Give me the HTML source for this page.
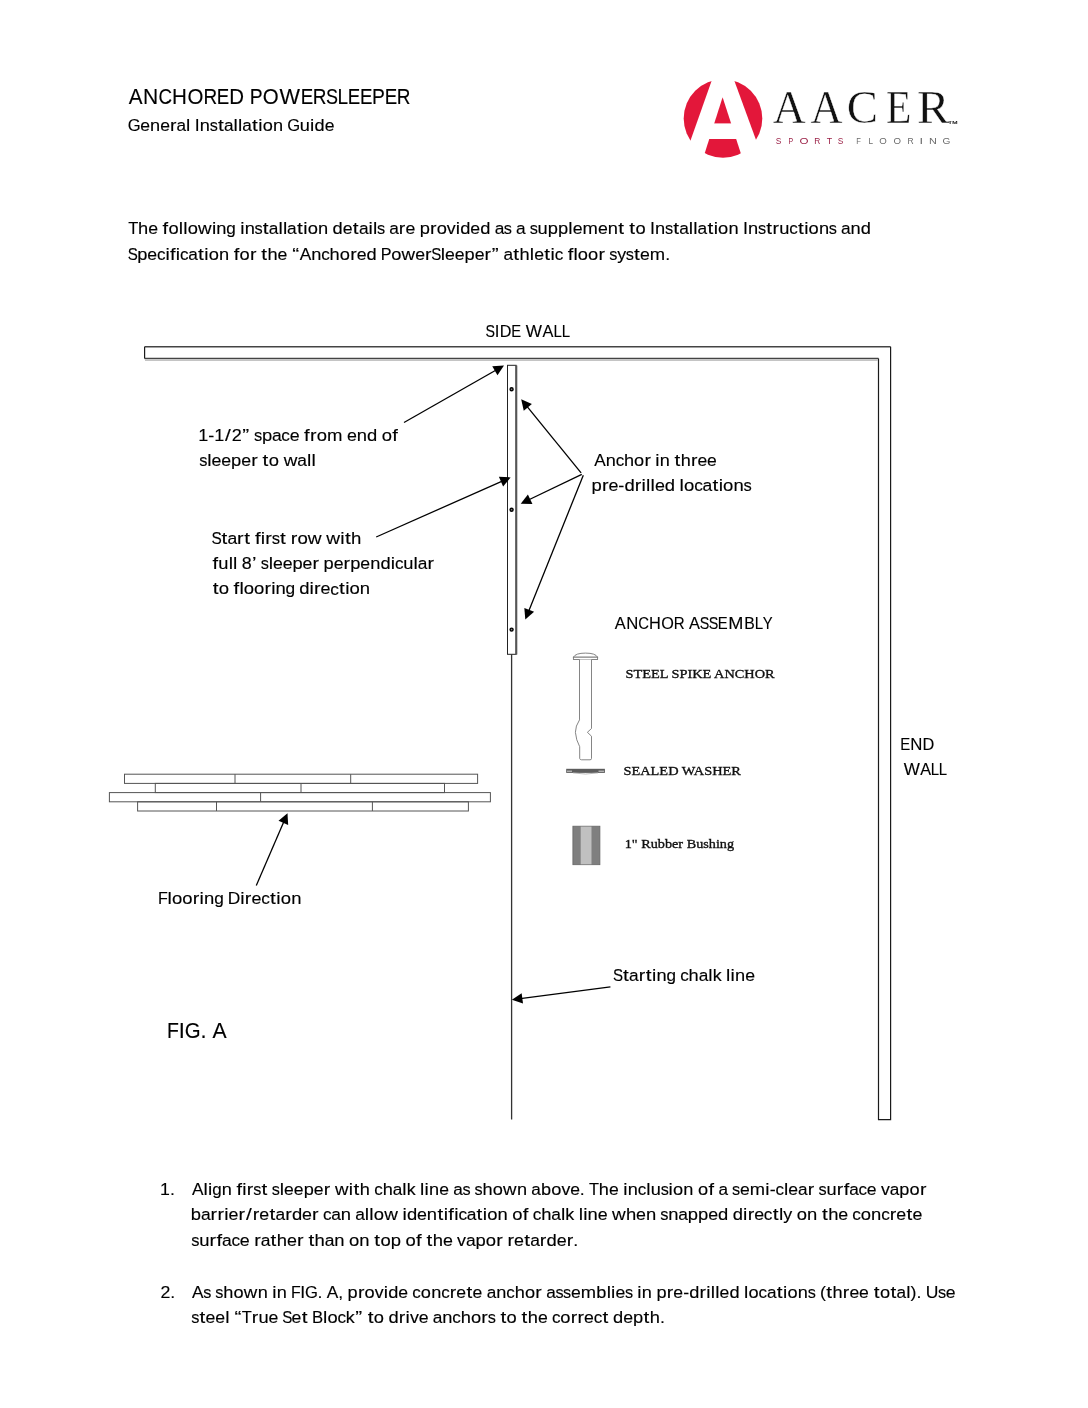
<!DOCTYPE html>
<html><head><meta charset="utf-8"><title>Anchored PowerSleeper</title>
<style>
html,body{margin:0;padding:0;background:#fff;}
body{width:1088px;height:1408px;overflow:hidden;}
svg{display:block;will-change:transform;}
.sans{font-family:"Liberation Sans", sans-serif;}
.b{stroke:#000;stroke-width:0.14px;}
.serif{font-family:"Liberation Serif", serif;}
</style></head><body>
<svg width="1088" height="1408" viewBox="0 0 1088 1408">
<g font-size="22.8" class="sans b" fill="#000"><text transform="scale(0.9065,1)" x="141.92" y="103.90">A</text><text transform="scale(0.9230,1)" x="155.00" y="103.90">N</text><text transform="scale(0.8230,1)" x="192.52" y="103.90">C</text><text transform="scale(0.9036,1)" x="190.41" y="103.90">H</text><text transform="scale(0.8963,1)" x="209.09" y="103.90">O</text><text transform="scale(0.8320,1)" x="244.46" y="103.90">R</text><text transform="scale(0.8188,1)" x="264.71" y="103.90">E</text><text transform="scale(0.8968,1)" x="255.60" y="103.90">D</text><text transform="scale(0.8469,1)" x="294.83" y="103.90">P</text><text transform="scale(0.8963,1)" x="293.15" y="103.90">O</text><text transform="scale(0.9528,1)" x="293.44" y="103.90">W</text><text transform="scale(0.8188,1)" x="367.19" y="103.90">E</text><text transform="scale(0.8320,1)" x="375.91" y="103.90">R</text><text transform="scale(0.7894,1)" x="412.92" y="103.90">S</text><text transform="scale(0.8347,1)" x="404.40" y="103.90">L</text><text transform="scale(0.8188,1)" x="424.82" y="103.90">E</text><text transform="scale(0.8188,1)" x="439.55" y="103.90">E</text><text transform="scale(0.8469,1)" x="439.32" y="103.90">P</text><text transform="scale(0.8188,1)" x="469.85" y="103.90">E</text><text transform="scale(0.8320,1)" x="476.95" y="103.90">R</text></g>
<g font-size="17.3" class="sans b" fill="#000"><text transform="scale(0.9580,1)" x="133.36" y="130.70">G</text><text transform="scale(1.0161,1)" x="138.07" y="130.70">e</text><text transform="scale(1.0498,1)" x="142.95" y="130.70">n</text><text transform="scale(1.0161,1)" x="157.65" y="130.70">e</text><text transform="scale(1.1166,1)" x="152.33" y="130.70">r</text><text transform="scale(0.9932,1)" x="177.79" y="130.70">a</text><text transform="scale(1.1076,1)" x="168.03" y="130.70">l</text><text transform="scale(1.0244,1)" x="190.23" y="130.70">I</text><text transform="scale(1.0498,1)" x="190.35" y="130.70">n</text><text transform="scale(0.9375,1)" x="223.75" y="130.70">s</text><text transform="scale(1.2000,1)" x="181.65" y="130.70">t</text><text transform="scale(0.9932,1)" x="225.54" y="130.70">a</text><text transform="scale(1.1076,1)" x="210.85" y="130.70">l</text><text transform="scale(1.1076,1)" x="214.88" y="130.70">l</text><text transform="scale(0.9932,1)" x="243.91" y="130.70">a</text><text transform="scale(1.2000,1)" x="210.05" y="130.70">t</text><text transform="scale(1.1076,1)" x="233.21" y="130.70">i</text><text transform="scale(1.0522,1)" x="249.71" y="130.70">o</text><text transform="scale(1.0498,1)" x="260.03" y="130.70">n</text><text transform="scale(0.9580,1)" x="299.82" y="130.70">G</text><text transform="scale(1.0498,1)" x="285.64" y="130.70">u</text><text transform="scale(1.1076,1)" x="280.00" y="130.70">i</text><text transform="scale(1.0498,1)" x="299.63" y="130.70">d</text><text transform="scale(1.0161,1)" x="319.53" y="130.70">e</text></g>
<defs><clipPath id="cc"><circle cx="723" cy="118.5" r="39.3"/></clipPath></defs>
<circle cx="723" cy="118.5" r="39.3" fill="#e3173a"/>
<polygon points="722.8,49.3 681.85,165 765.16,165" fill="#fff"/>
<polygon points="722.6,97.3 689.74,200 755.98,200" fill="#e3173a" clip-path="url(#cc)"/>
<rect x="700" y="123.4" width="46" height="15.6" fill="#fff"/>

<g font-size="17.3" class="sans b" fill="#000"><text transform="scale(0.9552,1)" x="134.29" y="233.90">T</text><text transform="scale(1.0572,1)" x="130.64" y="233.90">h</text><text transform="scale(1.0232,1)" x="144.88" y="233.90">e</text><text transform="scale(1.1572,1)" x="140.52" y="233.90">f</text><text transform="scale(1.0595,1)" x="158.96" y="233.90">o</text><text transform="scale(1.1154,1)" x="160.26" y="233.90">l</text><text transform="scale(1.1154,1)" x="164.27" y="233.90">l</text><text transform="scale(1.0595,1)" x="177.11" y="233.90">o</text><text transform="scale(1.0872,1)" x="182.18" y="233.90">w</text><text transform="scale(1.1154,1)" x="190.00" y="233.90">i</text><text transform="scale(1.0572,1)" x="204.64" y="233.90">n</text><text transform="scale(0.9897,1)" x="228.73" y="233.90">g</text><text transform="scale(1.1154,1)" x="215.37" y="233.90">i</text><text transform="scale(1.0572,1)" x="231.41" y="233.90">n</text><text transform="scale(0.9440,1)" x="269.68" y="233.90">s</text><text transform="scale(1.2000,1)" x="219.04" y="233.90">t</text><text transform="scale(1.0001,1)" x="268.82" y="233.90">a</text><text transform="scale(1.1154,1)" x="249.63" y="233.90">l</text><text transform="scale(1.1154,1)" x="253.64" y="233.90">l</text><text transform="scale(1.0001,1)" x="287.11" y="233.90">a</text><text transform="scale(1.2000,1)" x="247.50" y="233.90">t</text><text transform="scale(1.1154,1)" x="271.88" y="233.90">i</text><text transform="scale(1.0595,1)" x="290.39" y="233.90">o</text><text transform="scale(1.0572,1)" x="300.75" y="233.90">n</text><text transform="scale(1.0572,1)" x="314.61" y="233.90">d</text><text transform="scale(1.0232,1)" x="334.96" y="233.90">e</text><text transform="scale(1.2000,1)" x="294.07" y="233.90">t</text><text transform="scale(1.0001,1)" x="358.85" y="233.90">a</text><text transform="scale(1.1154,1)" x="330.35" y="233.90">i</text><text transform="scale(1.1154,1)" x="334.37" y="233.90">l</text><text transform="scale(0.9440,1)" x="399.42" y="233.90">s</text><text transform="scale(1.0001,1)" x="389.16" y="233.90">a</text><text transform="scale(1.1244,1)" x="354.73" y="233.90">r</text><text transform="scale(1.0232,1)" x="396.23" y="233.90">e</text><text transform="scale(1.0572,1)" x="396.95" y="233.90">p</text><text transform="scale(1.1244,1)" x="382.43" y="233.90">r</text><text transform="scale(1.0595,1)" x="412.15" y="233.90">o</text><text transform="scale(1.0291,1)" x="434.22" y="233.90">v</text><text transform="scale(1.1154,1)" x="408.67" y="233.90">i</text><text transform="scale(1.0572,1)" x="435.35" y="233.90">d</text><text transform="scale(1.0232,1)" x="459.71" y="233.90">e</text><text transform="scale(1.0572,1)" x="454.22" y="233.90">d</text><text transform="scale(1.0001,1)" x="494.59" y="233.90">a</text><text transform="scale(0.9440,1)" x="533.76" y="233.90">s</text><text transform="scale(1.0001,1)" x="515.96" y="233.90">a</text><text transform="scale(0.9440,1)" x="561.07" y="233.90">s</text><text transform="scale(1.0572,1)" x="508.51" y="233.90">u</text><text transform="scale(1.0572,1)" x="518.20" y="233.90">p</text><text transform="scale(1.0572,1)" x="527.89" y="233.90">p</text><text transform="scale(1.1154,1)" x="509.57" y="233.90">l</text><text transform="scale(1.0232,1)" x="559.69" y="233.90">e</text><text transform="scale(1.0667,1)" x="546.11" y="233.90">m</text><text transform="scale(1.0232,1)" x="584.39" y="233.90">e</text><text transform="scale(1.0572,1)" x="574.89" y="233.90">n</text><text transform="scale(1.2000,1)" x="515.28" y="233.90">t</text><text transform="scale(1.2000,1)" x="524.40" y="233.90">t</text><text transform="scale(1.0595,1)" x="599.78" y="233.90">o</text><text transform="scale(1.0315,1)" x="630.21" y="233.90">I</text><text transform="scale(1.0572,1)" x="619.65" y="233.90">n</text><text transform="scale(0.9440,1)" x="704.46" y="233.90">s</text><text transform="scale(1.2000,1)" x="561.06" y="233.90">t</text><text transform="scale(1.0001,1)" x="679.20" y="233.90">a</text><text transform="scale(1.1154,1)" x="617.61" y="233.90">l</text><text transform="scale(1.1154,1)" x="621.62" y="233.90">l</text><text transform="scale(1.0001,1)" x="697.49" y="233.90">a</text><text transform="scale(1.2000,1)" x="589.53" y="233.90">t</text><text transform="scale(1.1154,1)" x="639.86" y="233.90">i</text><text transform="scale(1.0595,1)" x="677.77" y="233.90">o</text><text transform="scale(1.0572,1)" x="689.00" y="233.90">n</text><text transform="scale(1.0315,1)" x="720.25" y="233.90">I</text><text transform="scale(1.0572,1)" x="707.50" y="233.90">n</text><text transform="scale(0.9440,1)" x="802.85" y="233.90">s</text><text transform="scale(1.2000,1)" x="638.46" y="233.90">t</text><text transform="scale(1.1244,1)" x="687.01" y="233.90">r</text><text transform="scale(1.0572,1)" x="737.01" y="233.90">u</text><text transform="scale(0.9892,1)" x="797.78" y="233.90">c</text><text transform="scale(1.2000,1)" x="664.97" y="233.90">t</text><text transform="scale(1.1154,1)" x="721.03" y="233.90">i</text><text transform="scale(1.0595,1)" x="763.21" y="233.90">o</text><text transform="scale(1.0572,1)" x="774.63" y="233.90">n</text><text transform="scale(0.9440,1)" x="878.03" y="233.90">s</text><text transform="scale(1.0001,1)" x="840.90" y="233.90">a</text><text transform="scale(1.0572,1)" x="804.54" y="233.90">n</text><text transform="scale(1.0572,1)" x="814.23" y="233.90">d</text></g>
<g font-size="17.3" class="sans b" fill="#000"><text transform="scale(0.8731,1)" x="146.26" y="259.60">S</text><text transform="scale(1.0553,1)" x="130.05" y="259.60">p</text><text transform="scale(1.0214,1)" x="144.27" y="259.60">e</text><text transform="scale(0.9875,1)" x="158.93" y="259.60">c</text><text transform="scale(1.1134,1)" x="148.57" y="259.60">i</text><text transform="scale(1.1552,1)" x="147.14" y="259.60">f</text><text transform="scale(1.1134,1)" x="157.91" y="259.60">i</text><text transform="scale(0.9875,1)" x="182.31" y="259.60">c</text><text transform="scale(0.9984,1)" x="188.57" y="259.60">a</text><text transform="scale(1.2000,1)" x="165.08" y="259.60">t</text><text transform="scale(1.1134,1)" x="183.51" y="259.60">i</text><text transform="scale(1.0576,1)" x="197.36" y="259.60">o</text><text transform="scale(1.0553,1)" x="207.51" y="259.60">n</text><text transform="scale(1.1552,1)" x="202.35" y="259.60">f</text><text transform="scale(1.0576,1)" x="226.48" y="259.60">o</text><text transform="scale(1.1224,1)" x="222.65" y="259.60">r</text><text transform="scale(1.2000,1)" x="217.75" y="259.60">t</text><text transform="scale(1.0553,1)" x="253.46" y="259.60">h</text><text transform="scale(1.0214,1)" x="271.77" y="259.60">e</text><text transform="scale(1.2000,1)" x="243.62" y="259.60">“</text><text transform="scale(1.0027,1)" x="298.90" y="259.60">A</text><text transform="scale(1.0553,1)" x="294.84" y="259.60">n</text><text transform="scale(0.9875,1)" x="325.24" y="259.60">c</text><text transform="scale(1.0553,1)" x="312.31" y="259.60">h</text><text transform="scale(1.0576,1)" x="321.29" y="259.60">o</text><text transform="scale(1.1224,1)" x="311.99" y="259.60">r</text><text transform="scale(1.0214,1)" x="349.26" y="259.60">e</text><text transform="scale(1.0553,1)" x="347.30" y="259.60">d</text><text transform="scale(0.9367,1)" x="406.42" y="259.60">P</text><text transform="scale(1.0576,1)" x="369.85" y="259.60">o</text><text transform="scale(1.0853,1)" x="370.00" y="259.60">w</text><text transform="scale(1.0214,1)" x="406.52" y="259.60">e</text><text transform="scale(1.1224,1)" x="378.76" y="259.60">r</text><text transform="scale(0.8731,1)" x="493.82" y="259.60">S</text><text transform="scale(1.1134,1)" x="395.88" y="259.60">l</text><text transform="scale(1.0214,1)" x="435.74" y="259.60">e</text><text transform="scale(1.0214,1)" x="445.22" y="259.60">e</text><text transform="scale(1.0553,1)" x="440.18" y="259.60">p</text><text transform="scale(1.0214,1)" x="464.69" y="259.60">e</text><text transform="scale(1.1224,1)" x="431.70" y="259.60">r</text><text transform="scale(1.2000,1)" x="409.81" y="259.60">”</text><text transform="scale(0.9984,1)" x="504.37" y="259.60">a</text><text transform="scale(1.2000,1)" x="427.82" y="259.60">t</text><text transform="scale(1.0553,1)" x="492.33" y="259.60">h</text><text transform="scale(1.1134,1)" x="475.86" y="259.60">l</text><text transform="scale(1.0214,1)" x="522.94" y="259.60">e</text><text transform="scale(1.2000,1)" x="453.54" y="259.60">t</text><text transform="scale(1.1134,1)" x="494.41" y="259.60">i</text><text transform="scale(0.9875,1)" x="561.72" y="259.60">c</text><text transform="scale(1.1552,1)" x="491.39" y="259.60">f</text><text transform="scale(1.1134,1)" x="515.08" y="259.60">l</text><text transform="scale(1.0576,1)" x="546.40" y="259.60">o</text><text transform="scale(1.0576,1)" x="556.10" y="259.60">o</text><text transform="scale(1.1224,1)" x="533.26" y="259.60">r</text><text transform="scale(0.9423,1)" x="646.57" y="259.60">s</text><text transform="scale(1.0287,1)" x="599.92" y="259.60">y</text><text transform="scale(0.9423,1)" x="663.98" y="259.60">s</text><text transform="scale(1.2000,1)" x="528.28" y="259.60">t</text><text transform="scale(1.0214,1)" x="626.59" y="259.60">e</text><text transform="scale(1.0648,1)" x="610.27" y="259.60">m</text><text transform="scale(1.0309,1)" x="645.30" y="259.60">.</text></g>
<g font-size="17.3" class="sans b" fill="#000"><text transform="scale(0.8229,1)" x="590.04" y="336.90">S</text><text transform="scale(0.9705,1)" x="509.89" y="336.90">I</text><text transform="scale(0.9348,1)" x="534.57" y="336.90">D</text><text transform="scale(0.8535,1)" x="599.05" y="336.90">E</text><text transform="scale(0.9933,1)" x="529.35" y="336.90">W</text><text transform="scale(0.9450,1)" x="574.20" y="336.90">A</text><text transform="scale(0.8701,1)" x="636.19" y="336.90">L</text><text transform="scale(0.8701,1)" x="645.52" y="336.90">L</text></g>
<g font-size="17.3" class="sans b" fill="#000"><text transform="scale(1.0414,1)" x="190.47" y="441.30">1</text><text transform="scale(1.0469,1)" x="198.97" y="441.30">-</text><text transform="scale(1.0414,1)" x="205.73" y="441.30">1</text><text transform="scale(1.2000,1)" x="187.58" y="441.30">/</text><text transform="scale(1.0414,1)" x="222.50" y="441.30">2</text><text transform="scale(1.2000,1)" x="201.92" y="441.30">”</text><text transform="scale(0.9502,1)" x="267.30" y="441.30">s</text><text transform="scale(1.0641,1)" x="246.15" y="441.30">p</text><text transform="scale(1.0067,1)" x="270.21" y="441.30">a</text><text transform="scale(0.9957,1)" x="282.58" y="441.30">c</text><text transform="scale(1.0299,1)" x="281.31" y="441.30">e</text><text transform="scale(1.1648,1)" x="261.10" y="441.30">f</text><text transform="scale(1.1318,1)" x="273.97" y="441.30">r</text><text transform="scale(1.0665,1)" x="297.02" y="441.30">o</text><text transform="scale(1.0737,1)" x="304.66" y="441.30">m</text><text transform="scale(1.0299,1)" x="336.91" y="441.30">e</text><text transform="scale(1.0641,1)" x="335.33" y="441.30">n</text><text transform="scale(1.0641,1)" x="344.98" y="441.30">d</text><text transform="scale(1.0665,1)" x="357.99" y="441.30">o</text><text transform="scale(1.1648,1)" x="336.74" y="441.30">f</text></g>
<g font-size="17.3" class="sans b" fill="#000"><text transform="scale(0.9476,1)" x="210.17" y="465.90">s</text><text transform="scale(1.1196,1)" x="185.03" y="465.90">l</text><text transform="scale(1.0271,1)" x="205.90" y="465.90">e</text><text transform="scale(1.0271,1)" x="215.37" y="465.90">e</text><text transform="scale(1.0612,1)" x="217.71" y="465.90">p</text><text transform="scale(1.0271,1)" x="234.83" y="465.90">e</text><text transform="scale(1.1287,1)" x="222.52" y="465.90">r</text><text transform="scale(1.2000,1)" x="218.85" y="465.90">t</text><text transform="scale(1.0636,1)" x="252.74" y="465.90">o</text><text transform="scale(1.0914,1)" x="259.92" y="465.90">w</text><text transform="scale(1.0040,1)" x="296.15" y="465.90">a</text><text transform="scale(1.1196,1)" x="274.13" y="465.90">l</text><text transform="scale(1.1196,1)" x="278.13" y="465.90">l</text></g>
<g font-size="17.3" class="sans b" fill="#000"><text transform="scale(0.9957,1)" x="596.93" y="466.20">A</text><text transform="scale(1.0479,1)" x="577.99" y="466.20">n</text><text transform="scale(0.9806,1)" x="627.81" y="466.20">c</text><text transform="scale(1.0479,1)" x="595.43" y="466.20">h</text><text transform="scale(1.0503,1)" x="603.75" y="466.20">o</text><text transform="scale(1.1146,1)" x="578.15" y="466.20">r</text><text transform="scale(1.1056,1)" x="592.78" y="466.20">i</text><text transform="scale(1.0479,1)" x="629.58" y="466.20">n</text><text transform="scale(1.2000,1)" x="562.14" y="466.20">t</text><text transform="scale(1.0479,1)" x="649.56" y="466.20">h</text><text transform="scale(1.1146,1)" x="619.92" y="466.20">r</text><text transform="scale(1.0143,1)" x="687.63" y="466.20">e</text><text transform="scale(1.0143,1)" x="697.08" y="466.20">e</text></g>
<g font-size="17.3" class="sans b" fill="#000"><text transform="scale(1.0681,1)" x="553.85" y="491.30">p</text><text transform="scale(1.1360,1)" x="529.91" y="491.30">r</text><text transform="scale(1.0338,1)" x="588.69" y="491.30">e</text><text transform="scale(1.0508,1)" x="588.49" y="491.30">-</text><text transform="scale(1.0681,1)" x="584.62" y="491.30">d</text><text transform="scale(1.1360,1)" x="558.85" y="491.30">r</text><text transform="scale(1.1269,1)" x="569.37" y="491.30">i</text><text transform="scale(1.1269,1)" x="573.37" y="491.30">l</text><text transform="scale(1.1269,1)" x="577.36" y="491.30">l</text><text transform="scale(1.0338,1)" x="633.54" y="491.30">e</text><text transform="scale(1.0681,1)" x="622.41" y="491.30">d</text><text transform="scale(1.1269,1)" x="603.06" y="491.30">l</text><text transform="scale(1.0705,1)" x="638.99" y="491.30">o</text><text transform="scale(0.9995,1)" x="694.53" y="491.30">c</text><text transform="scale(1.0105,1)" x="695.18" y="491.30">a</text><text transform="scale(1.2000,1)" x="593.67" y="491.30">t</text><text transform="scale(1.1269,1)" x="637.73" y="491.30">i</text><text transform="scale(1.0705,1)" x="675.48" y="491.30">o</text><text transform="scale(1.0681,1)" x="686.66" y="491.30">n</text><text transform="scale(0.9538,1)" x="779.45" y="491.30">s</text></g>
<g font-size="17.3" class="sans b" fill="#000"><text transform="scale(0.8893,1)" x="237.76" y="543.70">S</text><text transform="scale(1.2000,1)" x="184.54" y="543.70">t</text><text transform="scale(1.0168,1)" x="223.63" y="543.70">a</text><text transform="scale(1.1431,1)" x="207.39" y="543.70">r</text><text transform="scale(1.2000,1)" x="203.47" y="543.70">t</text><text transform="scale(1.1765,1)" x="216.65" y="543.70">f</text><text transform="scale(1.1340,1)" x="229.96" y="543.70">i</text><text transform="scale(1.1431,1)" x="232.09" y="543.70">r</text><text transform="scale(0.9597,1)" x="283.08" y="543.70">s</text><text transform="scale(1.2000,1)" x="233.36" y="543.70">t</text><text transform="scale(1.1431,1)" x="254.32" y="543.70">r</text><text transform="scale(1.0772,1)" x="276.09" y="543.70">o</text><text transform="scale(1.1053,1)" x="278.48" y="543.70">w</text><text transform="scale(1.1053,1)" x="295.12" y="543.70">w</text><text transform="scale(1.1340,1)" x="299.97" y="543.70">i</text><text transform="scale(1.2000,1)" x="287.47" y="543.70">t</text><text transform="scale(1.0748,1)" x="326.66" y="543.70">h</text></g>
<g font-size="17.3" class="sans b" fill="#000"><text transform="scale(1.1569,1)" x="183.74" y="568.90">f</text><text transform="scale(1.0568,1)" x="206.60" y="568.90">u</text><text transform="scale(1.1150,1)" x="205.05" y="568.90">l</text><text transform="scale(1.1150,1)" x="209.05" y="568.90">l</text><text transform="scale(1.0343,1)" x="233.82" y="568.90">8</text><text transform="scale(1.1724,1)" x="214.87" y="568.90">’</text><text transform="scale(0.9437,1)" x="276.28" y="568.90">s</text><text transform="scale(1.1150,1)" x="240.98" y="568.90">l</text><text transform="scale(1.0228,1)" x="266.89" y="568.90">e</text><text transform="scale(1.0228,1)" x="276.36" y="568.90">e</text><text transform="scale(1.0568,1)" x="276.74" y="568.90">p</text><text transform="scale(1.0228,1)" x="295.82" y="568.90">e</text><text transform="scale(1.1240,1)" x="278.02" y="568.90">r</text><text transform="scale(1.0568,1)" x="306.17" y="568.90">p</text><text transform="scale(1.0228,1)" x="326.22" y="568.90">e</text><text transform="scale(1.1240,1)" x="305.69" y="568.90">r</text><text transform="scale(1.0568,1)" x="331.43" y="568.90">p</text><text transform="scale(1.0228,1)" x="352.32" y="568.90">e</text><text transform="scale(1.0568,1)" x="350.27" y="568.90">n</text><text transform="scale(1.0568,1)" x="359.94" y="568.90">d</text><text transform="scale(1.1150,1)" x="350.38" y="568.90">i</text><text transform="scale(0.9889,1)" x="399.32" y="568.90">c</text><text transform="scale(1.0568,1)" x="381.63" y="568.90">u</text><text transform="scale(1.1150,1)" x="370.94" y="568.90">l</text><text transform="scale(0.9998,1)" x="417.91" y="568.90">a</text><text transform="scale(1.1240,1)" x="380.29" y="568.90">r</text></g>
<g font-size="17.3" class="sans b" fill="#000"><text transform="scale(1.2000,1)" x="177.21" y="594.50">t</text><text transform="scale(1.0710,1)" x="204.26" y="594.50">o</text><text transform="scale(1.1698,1)" x="199.68" y="594.50">f</text><text transform="scale(1.1275,1)" x="212.36" y="594.50">l</text><text transform="scale(1.0710,1)" x="227.63" y="594.50">o</text><text transform="scale(1.0710,1)" x="237.20" y="594.50">o</text><text transform="scale(1.1366,1)" x="232.66" y="594.50">r</text><text transform="scale(1.1275,1)" x="240.51" y="594.50">i</text><text transform="scale(1.0686,1)" x="257.83" y="594.50">n</text><text transform="scale(1.0004,1)" x="285.41" y="594.50">g</text><text transform="scale(1.0686,1)" x="280.06" y="594.50">d</text><text transform="scale(1.1275,1)" x="274.59" y="594.50">i</text><text transform="scale(1.1366,1)" x="276.36" y="594.50">r</text><text transform="scale(1.0343,1)" x="309.99" y="594.50">e</text><text transform="scale(1.0000,1)" x="330.23" y="594.50">c</text><text transform="scale(1.2000,1)" x="282.52" y="594.50">t</text><text transform="scale(1.1275,1)" x="306.20" y="594.50">i</text><text transform="scale(1.0710,1)" x="326.42" y="594.50">o</text><text transform="scale(1.0686,1)" x="336.73" y="594.50">n</text></g>
<g font-size="17.3" class="sans b" fill="#000"><text transform="scale(0.9493,1)" x="647.69" y="629.20">A</text><text transform="scale(0.9665,1)" x="647.91" y="629.20">N</text><text transform="scale(0.8618,1)" x="740.71" y="629.20">C</text><text transform="scale(0.9462,1)" x="685.97" y="629.20">H</text><text transform="scale(0.9386,1)" x="704.41" y="629.20">O</text><text transform="scale(0.8712,1)" x="773.33" y="629.20">R</text><text transform="scale(0.9493,1)" x="725.81" y="629.20">A</text><text transform="scale(0.8267,1)" x="846.56" y="629.20">S</text><text transform="scale(0.8267,1)" x="857.38" y="629.20">S</text><text transform="scale(0.8574,1)" x="837.20" y="629.20">E</text><text transform="scale(1.0501,1)" x="693.51" y="629.20">M</text><text transform="scale(0.9148,1)" x="813.49" y="629.20">B</text><text transform="scale(0.8741,1)" x="863.35" y="629.20">L</text><text transform="scale(0.8564,1)" x="890.63" y="629.20">Y</text></g>
<g font-size="17.3" class="sans b" fill="#000"><text transform="scale(0.8622,1)" x="1044.20" y="749.80">E</text><text transform="scale(0.9719,1)" x="936.49" y="749.80">N</text><text transform="scale(0.9443,1)" x="977.00" y="749.80">D</text></g>
<g font-size="17.3" class="sans b" fill="#000"><text transform="scale(0.9867,1)" x="915.83" y="775.10">W</text><text transform="scale(0.9388,1)" x="980.18" y="775.10">A</text><text transform="scale(0.8643,1)" x="1076.95" y="775.10">L</text><text transform="scale(0.8643,1)" x="1086.14" y="775.10">L</text></g>
<g font-size="17.3" class="sans b" fill="#000"><text transform="scale(0.9305,1)" x="169.77" y="903.90">F</text><text transform="scale(1.1256,1)" x="148.82" y="903.90">l</text><text transform="scale(1.0692,1)" x="160.84" y="903.90">o</text><text transform="scale(1.0692,1)" x="170.54" y="903.90">o</text><text transform="scale(1.1347,1)" x="169.95" y="903.90">r</text><text transform="scale(1.1256,1)" x="177.36" y="903.90">i</text><text transform="scale(1.0669,1)" x="191.30" y="903.90">n</text><text transform="scale(0.9988,1)" x="214.48" y="903.90">g</text><text transform="scale(1.0027,1)" x="227.27" y="903.90">D</text><text transform="scale(1.1256,1)" x="213.48" y="903.90">i</text><text transform="scale(1.1347,1)" x="215.81" y="903.90">r</text><text transform="scale(1.0326,1)" x="243.57" y="903.90">e</text><text transform="scale(0.9983,1)" x="261.65" y="903.90">c</text><text transform="scale(1.2000,1)" x="225.08" y="903.90">t</text><text transform="scale(1.1256,1)" x="245.53" y="903.90">i</text><text transform="scale(1.0692,1)" x="262.65" y="903.90">o</text><text transform="scale(1.0669,1)" x="272.95" y="903.90">n</text></g>
<g font-size="17.3" class="sans b" fill="#000"><text transform="scale(0.8731,1)" x="702.11" y="981.50">S</text><text transform="scale(1.2000,1)" x="519.13" y="981.50">t</text><text transform="scale(0.9983,1)" x="630.05" y="981.50">a</text><text transform="scale(1.1224,1)" x="569.03" y="981.50">r</text><text transform="scale(1.2000,1)" x="538.09" y="981.50">t</text><text transform="scale(1.1134,1)" x="585.58" y="981.50">i</text><text transform="scale(1.0553,1)" x="622.04" y="981.50">n</text><text transform="scale(0.9879,1)" x="674.64" y="981.50">g</text><text transform="scale(0.9875,1)" x="688.77" y="981.50">c</text><text transform="scale(1.0553,1)" x="652.54" y="981.50">h</text><text transform="scale(0.9983,1)" x="699.87" y="981.50">a</text><text transform="scale(1.1134,1)" x="636.17" y="981.50">l</text><text transform="scale(1.0313,1)" x="691.05" y="981.50">k</text><text transform="scale(1.1134,1)" x="652.17" y="981.50">l</text><text transform="scale(1.1134,1)" x="656.20" y="981.50">i</text><text transform="scale(1.0553,1)" x="696.55" y="981.50">n</text><text transform="scale(1.0214,1)" x="729.63" y="981.50">e</text></g>
<g font-size="22.8" class="sans b" fill="#000"><text transform="scale(0.8535,1)" x="195.55" y="1037.60">F</text><text transform="scale(0.9548,1)" x="187.12" y="1037.60">I</text><text transform="scale(0.8929,1)" x="206.90" y="1037.60">G</text><text transform="scale(0.9559,1)" x="209.87" y="1037.60">.</text><text transform="scale(0.9297,1)" x="228.59" y="1037.60">A</text></g>
<text x="625.45" y="677.80" font-size="13.4" textLength="149.17" lengthAdjust="spacingAndGlyphs" class="serif" fill="#111" stroke="#111" stroke-width="0.35">STEEL SPIKE ANCHOR</text>
<text x="623.45" y="775.00" font-size="13.4" textLength="117.47" lengthAdjust="spacingAndGlyphs" class="serif" fill="#111" stroke="#111" stroke-width="0.35">SEALED WASHER</text>
<text x="624.75" y="848.00" font-size="13.4" textLength="109.32" lengthAdjust="spacingAndGlyphs" class="serif" fill="#111" stroke="#111" stroke-width="0.35">1&quot; Rubber Bushing</text>
<g font-size="17.3" class="sans b" fill="#000"><text transform="scale(1.0268,1)" x="155.84" y="1194.90">1</text><text transform="scale(1.0250,1)" x="165.76" y="1194.90">.</text></g>
<g font-size="17.3" class="sans b" fill="#000"><text transform="scale(0.9980,1)" x="192.39" y="1194.90">A</text><text transform="scale(1.1082,1)" x="183.65" y="1194.90">l</text><text transform="scale(1.1082,1)" x="187.69" y="1194.90">i</text><text transform="scale(0.9834,1)" x="215.82" y="1194.90">g</text><text transform="scale(1.0504,1)" x="211.00" y="1194.90">n</text><text transform="scale(1.1499,1)" x="205.62" y="1194.90">f</text><text transform="scale(1.1082,1)" x="218.62" y="1194.90">i</text><text transform="scale(1.1172,1)" x="220.94" y="1194.90">r</text><text transform="scale(0.9380,1)" x="269.97" y="1194.90">s</text><text transform="scale(1.2000,1)" x="217.90" y="1194.90">t</text><text transform="scale(0.9380,1)" x="289.78" y="1194.90">s</text><text transform="scale(1.1082,1)" x="252.45" y="1194.90">l</text><text transform="scale(1.0166,1)" x="279.46" y="1194.90">e</text><text transform="scale(1.0166,1)" x="289.01" y="1194.90">e</text><text transform="scale(1.0504,1)" x="289.07" y="1194.90">p</text><text transform="scale(1.0166,1)" x="308.65" y="1194.90">e</text><text transform="scale(1.1172,1)" x="289.76" y="1194.90">r</text><text transform="scale(1.0803,1)" x="310.09" y="1194.90">w</text><text transform="scale(1.1082,1)" x="314.74" y="1194.90">i</text><text transform="scale(1.2000,1)" x="294.63" y="1194.90">t</text><text transform="scale(1.0504,1)" x="342.52" y="1194.90">h</text><text transform="scale(0.9829,1)" x="380.76" y="1194.90">c</text><text transform="scale(1.0504,1)" x="364.34" y="1194.90">h</text><text transform="scale(0.9937,1)" x="395.25" y="1194.90">a</text><text transform="scale(1.1082,1)" x="363.04" y="1194.90">l</text><text transform="scale(1.0265,1)" x="396.19" y="1194.90">k</text><text transform="scale(1.1082,1)" x="379.07" y="1194.90">l</text><text transform="scale(1.1082,1)" x="383.11" y="1194.90">i</text><text transform="scale(1.0504,1)" x="408.43" y="1194.90">n</text><text transform="scale(1.0166,1)" x="431.97" y="1194.90">e</text><text transform="scale(0.9937,1)" x="456.07" y="1194.90">a</text><text transform="scale(0.9380,1)" x="493.01" y="1194.90">s</text><text transform="scale(0.9380,1)" x="505.85" y="1194.90">s</text><text transform="scale(1.0504,1)" x="459.27" y="1194.90">h</text><text transform="scale(1.0527,1)" x="467.99" y="1194.90">o</text><text transform="scale(1.0803,1)" x="465.73" y="1194.90">w</text><text transform="scale(1.0504,1)" x="492.10" y="1194.90">n</text><text transform="scale(0.9937,1)" x="534.74" y="1194.90">a</text><text transform="scale(1.0504,1)" x="514.96" y="1194.90">b</text><text transform="scale(1.0527,1)" x="523.56" y="1194.90">o</text><text transform="scale(1.0226,1)" x="548.99" y="1194.90">v</text><text transform="scale(1.0166,1)" x="560.83" y="1194.90">e</text><text transform="scale(1.0261,1)" x="565.13" y="1194.90">.</text><text transform="scale(0.9491,1)" x="620.58" y="1194.90">T</text><text transform="scale(1.0504,1)" x="570.10" y="1194.90">h</text><text transform="scale(1.0166,1)" x="599.00" y="1194.90">e</text><text transform="scale(1.1082,1)" x="562.37" y="1194.90">i</text><text transform="scale(1.0504,1)" x="597.57" y="1194.90">n</text><text transform="scale(0.9829,1)" x="648.83" y="1194.90">c</text><text transform="scale(1.1082,1)" x="583.11" y="1194.90">l</text><text transform="scale(1.0504,1)" x="619.45" y="1194.90">u</text><text transform="scale(0.9380,1)" x="704.30" y="1194.90">s</text><text transform="scale(1.1082,1)" x="603.29" y="1194.90">i</text><text transform="scale(1.0527,1)" x="639.32" y="1194.90">o</text><text transform="scale(1.0504,1)" x="650.53" y="1194.90">n</text><text transform="scale(1.0527,1)" x="663.02" y="1194.90">o</text><text transform="scale(1.1499,1)" x="616.09" y="1194.90">f</text><text transform="scale(0.9937,1)" x="722.99" y="1194.90">a</text><text transform="scale(0.9380,1)" x="780.51" y="1194.90">s</text><text transform="scale(1.0166,1)" x="727.80" y="1194.90">e</text><text transform="scale(1.0599,1)" x="707.45" y="1194.90">m</text><text transform="scale(1.1082,1)" x="690.61" y="1194.90">i</text><text transform="scale(1.0334,1)" x="744.86" y="1194.90">-</text><text transform="scale(0.9829,1)" x="789.07" y="1194.90">c</text><text transform="scale(1.1082,1)" x="707.49" y="1194.90">l</text><text transform="scale(1.0166,1)" x="775.49" y="1194.90">e</text><text transform="scale(0.9937,1)" x="803.08" y="1194.90">a</text><text transform="scale(1.1172,1)" x="722.95" y="1194.90">r</text><text transform="scale(0.9380,1)" x="872.61" y="1194.90">s</text><text transform="scale(1.0504,1)" x="786.76" y="1194.90">u</text><text transform="scale(1.1172,1)" x="749.00" y="1194.90">r</text><text transform="scale(1.1499,1)" x="733.67" y="1194.90">f</text><text transform="scale(0.9937,1)" x="854.61" y="1194.90">a</text><text transform="scale(0.9829,1)" x="873.51" y="1194.90">c</text><text transform="scale(1.0166,1)" x="852.72" y="1194.90">e</text><text transform="scale(1.0226,1)" x="861.62" y="1194.90">v</text><text transform="scale(0.9937,1)" x="895.39" y="1194.90">a</text><text transform="scale(1.0504,1)" x="856.16" y="1194.90">p</text><text transform="scale(1.0527,1)" x="864.00" y="1194.90">o</text><text transform="scale(1.1172,1)" x="823.46" y="1194.90">r</text></g>
<g font-size="17.3" class="sans b" fill="#000"><text transform="scale(1.0639,1)" x="179.38" y="1220.30">b</text><text transform="scale(1.0065,1)" x="199.63" y="1220.30">a</text><text transform="scale(1.1316,1)" x="186.11" y="1220.30">r</text><text transform="scale(1.1316,1)" x="192.13" y="1220.30">r</text><text transform="scale(1.1225,1)" x="199.70" y="1220.30">i</text><text transform="scale(1.0297,1)" x="221.87" y="1220.30">e</text><text transform="scale(1.1316,1)" x="210.70" y="1220.30">r</text><text transform="scale(1.2000,1)" x="204.98" y="1220.30">/</text><text transform="scale(1.1316,1)" x="223.39" y="1220.30">r</text><text transform="scale(1.0297,1)" x="251.86" y="1220.30">e</text><text transform="scale(1.2000,1)" x="224.63" y="1220.30">t</text><text transform="scale(1.0065,1)" x="273.76" y="1220.30">a</text><text transform="scale(1.1316,1)" x="252.05" y="1220.30">r</text><text transform="scale(1.0639,1)" x="274.36" y="1220.30">d</text><text transform="scale(1.0297,1)" x="293.33" y="1220.30">e</text><text transform="scale(1.1316,1)" x="275.73" y="1220.30">r</text><text transform="scale(0.9955,1)" x="324.36" y="1220.30">c</text><text transform="scale(1.0065,1)" x="329.05" y="1220.30">a</text><text transform="scale(1.0639,1)" x="320.26" y="1220.30">n</text><text transform="scale(1.0065,1)" x="352.93" y="1220.30">a</text><text transform="scale(1.1225,1)" x="325.02" y="1220.30">l</text><text transform="scale(1.1225,1)" x="329.02" y="1220.30">l</text><text transform="scale(1.0663,1)" x="350.51" y="1220.30">o</text><text transform="scale(1.0941,1)" x="351.11" y="1220.30">w</text><text transform="scale(1.1225,1)" x="358.56" y="1220.30">i</text><text transform="scale(1.0639,1)" x="382.46" y="1220.30">d</text><text transform="scale(1.0297,1)" x="405.02" y="1220.30">e</text><text transform="scale(1.0639,1)" x="401.24" y="1220.30">n</text><text transform="scale(1.2000,1)" x="364.60" y="1220.30">t</text><text transform="scale(1.1225,1)" x="395.34" y="1220.30">i</text><text transform="scale(1.1646,1)" x="384.96" y="1220.30">f</text><text transform="scale(1.1225,1)" x="404.64" y="1220.30">i</text><text transform="scale(0.9955,1)" x="460.48" y="1220.30">c</text><text transform="scale(1.0065,1)" x="463.69" y="1220.30">a</text><text transform="scale(1.2000,1)" x="397.17" y="1220.30">t</text><text transform="scale(1.1225,1)" x="430.16" y="1220.30">i</text><text transform="scale(1.0663,1)" x="456.99" y="1220.30">o</text><text transform="scale(1.0639,1)" x="467.68" y="1220.30">n</text><text transform="scale(1.0663,1)" x="480.42" y="1220.30">o</text><text transform="scale(1.1646,1)" x="448.83" y="1220.30">f</text><text transform="scale(0.9955,1)" x="535.13" y="1220.30">c</text><text transform="scale(1.0639,1)" x="508.68" y="1220.30">h</text><text transform="scale(1.0065,1)" x="547.71" y="1220.30">a</text><text transform="scale(1.1225,1)" x="499.68" y="1220.30">l</text><text transform="scale(1.0397,1)" x="543.63" y="1220.30">k</text><text transform="scale(1.1225,1)" x="515.52" y="1220.30">l</text><text transform="scale(1.1225,1)" x="519.51" y="1220.30">i</text><text transform="scale(1.0639,1)" x="552.27" y="1220.30">n</text><text transform="scale(1.0297,1)" x="580.47" y="1220.30">e</text><text transform="scale(1.0941,1)" x="559.43" y="1220.30">w</text><text transform="scale(1.0639,1)" x="588.33" y="1220.30">h</text><text transform="scale(1.0297,1)" x="617.73" y="1220.30">e</text><text transform="scale(1.0639,1)" x="607.12" y="1220.30">n</text><text transform="scale(0.9500,1)" x="695.04" y="1220.30">s</text><text transform="scale(1.0639,1)" x="628.10" y="1220.30">n</text><text transform="scale(1.0065,1)" x="673.94" y="1220.30">a</text><text transform="scale(1.0639,1)" x="646.54" y="1220.30">p</text><text transform="scale(1.0639,1)" x="656.19" y="1220.30">p</text><text transform="scale(1.0297,1)" x="687.83" y="1220.30">e</text><text transform="scale(1.0639,1)" x="674.97" y="1220.30">d</text><text transform="scale(1.0639,1)" x="688.77" y="1220.30">d</text><text transform="scale(1.1225,1)" x="662.03" y="1220.30">i</text><text transform="scale(1.1316,1)" x="660.74" y="1220.30">r</text><text transform="scale(1.0297,1)" x="732.47" y="1220.30">e</text><text transform="scale(0.9955,1)" x="767.30" y="1220.30">c</text><text transform="scale(1.2000,1)" x="643.91" y="1220.30">t</text><text transform="scale(1.1225,1)" x="693.94" y="1220.30">l</text><text transform="scale(1.0370,1)" x="755.30" y="1220.30">y</text><text transform="scale(1.0663,1)" x="747.11" y="1220.30">o</text><text transform="scale(1.0639,1)" x="758.45" y="1220.30">n</text><text transform="scale(1.2000,1)" x="684.97" y="1220.30">t</text><text transform="scale(1.0639,1)" x="778.40" y="1220.30">h</text><text transform="scale(1.0297,1)" x="814.10" y="1220.30">e</text><text transform="scale(0.9955,1)" x="856.17" y="1220.30">c</text><text transform="scale(1.0663,1)" x="807.31" y="1220.30">o</text><text transform="scale(1.0639,1)" x="818.78" y="1220.30">n</text><text transform="scale(0.9955,1)" x="885.13" y="1220.30">c</text><text transform="scale(1.1316,1)" x="786.32" y="1220.30">r</text><text transform="scale(1.0297,1)" x="870.46" y="1220.30">e</text><text transform="scale(1.2000,1)" x="755.44" y="1220.30">t</text><text transform="scale(1.0297,1)" x="886.26" y="1220.30">e</text></g>
<g font-size="17.3" class="sans b" fill="#000"><text transform="scale(0.9513,1)" x="201.03" y="1245.80">s</text><text transform="scale(1.0653,1)" x="186.98" y="1245.80">u</text><text transform="scale(1.1331,1)" x="184.99" y="1245.80">r</text><text transform="scale(1.1662,1)" x="185.61" y="1245.80">f</text><text transform="scale(1.0079,1)" x="220.35" y="1245.80">a</text><text transform="scale(0.9969,1)" x="232.17" y="1245.80">c</text><text transform="scale(1.0311,1)" x="232.56" y="1245.80">e</text><text transform="scale(1.1331,1)" x="224.33" y="1245.80">r</text><text transform="scale(1.0079,1)" x="258.67" y="1245.80">a</text><text transform="scale(1.2000,1)" x="225.52" y="1245.80">t</text><text transform="scale(1.0653,1)" x="259.82" y="1245.80">h</text><text transform="scale(1.0311,1)" x="278.31" y="1245.80">e</text><text transform="scale(1.1331,1)" x="262.06" y="1245.80">r</text><text transform="scale(1.2000,1)" x="257.02" y="1245.80">t</text><text transform="scale(1.0653,1)" x="295.31" y="1245.80">h</text><text transform="scale(1.0079,1)" x="322.17" y="1245.80">a</text><text transform="scale(1.0653,1)" x="313.75" y="1245.80">n</text><text transform="scale(1.0677,1)" x="326.82" y="1245.80">o</text><text transform="scale(1.0653,1)" x="337.23" y="1245.80">n</text><text transform="scale(1.2000,1)" x="311.95" y="1245.80">t</text><text transform="scale(1.0677,1)" x="356.39" y="1245.80">o</text><text transform="scale(1.0653,1)" x="366.86" y="1245.80">p</text><text transform="scale(1.0677,1)" x="379.82" y="1245.80">o</text><text transform="scale(1.1662,1)" x="356.72" y="1245.80">f</text><text transform="scale(1.2000,1)" x="355.51" y="1245.80">t</text><text transform="scale(1.0653,1)" x="406.24" y="1245.80">h</text><text transform="scale(1.0311,1)" x="429.59" y="1245.80">e</text><text transform="scale(1.0371,1)" x="440.78" y="1245.80">v</text><text transform="scale(1.0079,1)" x="462.24" y="1245.80">a</text><text transform="scale(1.0653,1)" x="446.26" y="1245.80">p</text><text transform="scale(1.0677,1)" x="454.90" y="1245.80">o</text><text transform="scale(1.1331,1)" x="437.87" y="1245.80">r</text><text transform="scale(1.1331,1)" x="447.79" y="1245.80">r</text><text transform="scale(1.0311,1)" x="498.46" y="1245.80">e</text><text transform="scale(1.2000,1)" x="436.82" y="1245.80">t</text><text transform="scale(1.0079,1)" x="526.05" y="1245.80">a</text><text transform="scale(1.1331,1)" x="476.45" y="1245.80">r</text><text transform="scale(1.0653,1)" x="513.03" y="1245.80">d</text><text transform="scale(1.0311,1)" x="539.92" y="1245.80">e</text><text transform="scale(1.1331,1)" x="500.13" y="1245.80">r</text><text transform="scale(1.0407,1)" x="550.89" y="1245.80">.</text></g>
<g font-size="17.3" class="sans b" fill="#000"><text transform="scale(1.0268,1)" x="156.24" y="1298.20">2</text><text transform="scale(1.0250,1)" x="166.16" y="1298.20">.</text></g>
<g font-size="17.3" class="sans b" fill="#000"><text transform="scale(0.9988,1)" x="192.24" y="1298.20">A</text><text transform="scale(0.9387,1)" x="216.45" y="1298.20">s</text><text transform="scale(0.9387,1)" x="229.28" y="1298.20">s</text><text transform="scale(1.0512,1)" x="212.30" y="1298.20">h</text><text transform="scale(1.0535,1)" x="221.56" y="1298.20">o</text><text transform="scale(1.0811,1)" x="225.57" y="1298.20">w</text><text transform="scale(1.0512,1)" x="245.11" y="1298.20">n</text><text transform="scale(1.1091,1)" x="245.58" y="1298.20">i</text><text transform="scale(1.0512,1)" x="263.32" y="1298.20">n</text><text transform="scale(0.9169,1)" x="317.42" y="1298.20">F</text><text transform="scale(1.0257,1)" x="292.82" y="1298.20">I</text><text transform="scale(0.9593,1)" x="317.94" y="1298.20">G</text><text transform="scale(1.0269,1)" x="309.26" y="1298.20">.</text><text transform="scale(0.9988,1)" x="327.21" y="1298.20">A</text><text transform="scale(1.0197,1)" x="331.66" y="1298.20">,</text><text transform="scale(1.0512,1)" x="330.65" y="1298.20">p</text><text transform="scale(1.1180,1)" x="320.15" y="1298.20">r</text><text transform="scale(1.0535,1)" x="346.11" y="1298.20">o</text><text transform="scale(1.0233,1)" x="366.29" y="1298.20">v</text><text transform="scale(1.1091,1)" x="346.03" y="1298.20">i</text><text transform="scale(1.0512,1)" x="369.31" y="1298.20">d</text><text transform="scale(1.0174,1)" x="391.54" y="1298.20">e</text><text transform="scale(0.9836,1)" x="419.25" y="1298.20">c</text><text transform="scale(1.0535,1)" x="399.46" y="1298.20">o</text><text transform="scale(1.0512,1)" x="410.14" y="1298.20">n</text><text transform="scale(0.9836,1)" x="448.52" y="1298.20">c</text><text transform="scale(1.1180,1)" x="402.27" y="1298.20">r</text><text transform="scale(1.0174,1)" x="448.52" y="1298.20">e</text><text transform="scale(1.2000,1)" x="388.72" y="1298.20">t</text><text transform="scale(1.0174,1)" x="464.49" y="1298.20">e</text><text transform="scale(0.9945,1)" x="489.33" y="1298.20">a</text><text transform="scale(1.0512,1)" x="472.00" y="1298.20">n</text><text transform="scale(0.9836,1)" x="514.63" y="1298.20">c</text><text transform="scale(1.0512,1)" x="489.60" y="1298.20">h</text><text transform="scale(1.0535,1)" x="498.25" y="1298.20">o</text><text transform="scale(1.1180,1)" x="478.80" y="1298.20">r</text><text transform="scale(0.9945,1)" x="549.28" y="1298.20">a</text><text transform="scale(0.9387,1)" x="591.76" y="1298.20">s</text><text transform="scale(0.9387,1)" x="599.89" y="1298.20">s</text><text transform="scale(1.0174,1)" x="561.15" y="1298.20">e</text><text transform="scale(1.0607,1)" x="547.59" y="1298.20">m</text><text transform="scale(1.0512,1)" x="567.30" y="1298.20">b</text><text transform="scale(1.1091,1)" x="546.97" y="1298.20">l</text><text transform="scale(1.1091,1)" x="551.01" y="1298.20">i</text><text transform="scale(1.0174,1)" x="604.90" y="1298.20">e</text><text transform="scale(0.9387,1)" x="665.78" y="1298.20">s</text><text transform="scale(1.1091,1)" x="574.66" y="1298.20">i</text><text transform="scale(1.0512,1)" x="610.53" y="1298.20">n</text><text transform="scale(1.0512,1)" x="624.48" y="1298.20">p</text><text transform="scale(1.1180,1)" x="596.41" y="1298.20">r</text><text transform="scale(1.0174,1)" x="661.86" y="1298.20">e</text><text transform="scale(1.0342,1)" x="660.57" y="1298.20">-</text><text transform="scale(1.0512,1)" x="655.62" y="1298.20">d</text><text transform="scale(1.1180,1)" x="625.69" y="1298.20">r</text><text transform="scale(1.1091,1)" x="636.82" y="1298.20">i</text><text transform="scale(1.1091,1)" x="640.86" y="1298.20">l</text><text transform="scale(1.1091,1)" x="644.90" y="1298.20">l</text><text transform="scale(1.0174,1)" x="707.25" y="1298.20">e</text><text transform="scale(1.0512,1)" x="693.87" y="1298.20">d</text><text transform="scale(1.1091,1)" x="670.91" y="1298.20">l</text><text transform="scale(1.0535,1)" x="710.50" y="1298.20">o</text><text transform="scale(0.9836,1)" x="771.24" y="1298.20">c</text><text transform="scale(0.9945,1)" x="771.15" y="1298.20">a</text><text transform="scale(1.2000,1)" x="647.28" y="1298.20">t</text><text transform="scale(1.1091,1)" x="705.99" y="1298.20">i</text><text transform="scale(1.0535,1)" x="747.43" y="1298.20">o</text><text transform="scale(1.0512,1)" x="758.88" y="1298.20">n</text><text transform="scale(0.9387,1)" x="860.45" y="1298.20">s</text><text transform="scale(1.0282,1)" x="797.44" y="1298.20">(</text><text transform="scale(1.2000,1)" x="688.55" y="1298.20">t</text><text transform="scale(1.0512,1)" x="791.94" y="1298.20">h</text><text transform="scale(1.1180,1)" x="753.86" y="1298.20">r</text><text transform="scale(1.0174,1)" x="834.89" y="1298.20">e</text><text transform="scale(1.0174,1)" x="844.43" y="1298.20">e</text><text transform="scale(1.2000,1)" x="728.07" y="1298.20">t</text><text transform="scale(1.0535,1)" x="835.20" y="1298.20">o</text><text transform="scale(1.2000,1)" x="742.09" y="1298.20">t</text><text transform="scale(0.9945,1)" x="901.53" y="1298.20">a</text><text transform="scale(1.1091,1)" x="817.01" y="1298.20">l</text><text transform="scale(1.0282,1)" x="885.49" y="1298.20">)</text><text transform="scale(1.0269,1)" x="892.38" y="1298.20">.</text><text transform="scale(1.0132,1)" x="913.64" y="1298.20">U</text><text transform="scale(0.9387,1)" x="999.33" y="1298.20">s</text><text transform="scale(1.0174,1)" x="929.67" y="1298.20">e</text></g>
<g font-size="17.3" class="sans b" fill="#000"><text transform="scale(0.9433,1)" x="202.77" y="1322.80">s</text><text transform="scale(1.2000,1)" x="166.28" y="1322.80">t</text><text transform="scale(1.0224,1)" x="201.10" y="1322.80">e</text><text transform="scale(1.0224,1)" x="210.58" y="1322.80">e</text><text transform="scale(1.1145,1)" x="202.02" y="1322.80">l</text><text transform="scale(1.2000,1)" x="195.47" y="1322.80">“</text><text transform="scale(0.9545,1)" x="253.33" y="1322.80">T</text><text transform="scale(1.1235,1)" x="224.07" y="1322.80">r</text><text transform="scale(1.0564,1)" x="244.63" y="1322.80">u</text><text transform="scale(1.0224,1)" x="262.66" y="1322.80">e</text><text transform="scale(0.8740,1)" x="322.82" y="1322.80">S</text><text transform="scale(1.0224,1)" x="285.20" y="1322.80">e</text><text transform="scale(1.2000,1)" x="251.45" y="1322.80">t</text><text transform="scale(0.9672,1)" x="322.60" y="1322.80">B</text><text transform="scale(1.1145,1)" x="289.79" y="1322.80">l</text><text transform="scale(1.0587,1)" x="309.25" y="1322.80">o</text><text transform="scale(0.9885,1)" x="341.41" y="1322.80">c</text><text transform="scale(1.0324,1)" x="335.00" y="1322.80">k</text><text transform="scale(1.2000,1)" x="296.13" y="1322.80">”</text><text transform="scale(1.2000,1)" x="306.39" y="1322.80">t</text><text transform="scale(1.0587,1)" x="353.12" y="1322.80">o</text><text transform="scale(1.0564,1)" x="367.80" y="1322.80">d</text><text transform="scale(1.1235,1)" x="355.03" y="1322.80">r</text><text transform="scale(1.1145,1)" x="363.93" y="1322.80">i</text><text transform="scale(1.0284,1)" x="398.64" y="1322.80">v</text><text transform="scale(1.0224,1)" x="409.54" y="1322.80">e</text><text transform="scale(0.9994,1)" x="433.02" y="1322.80">a</text><text transform="scale(1.0564,1)" x="418.66" y="1322.80">n</text><text transform="scale(0.9885,1)" x="457.57" y="1322.80">c</text><text transform="scale(1.0564,1)" x="436.15" y="1322.80">h</text><text transform="scale(1.0587,1)" x="444.85" y="1322.80">o</text><text transform="scale(1.1235,1)" x="428.44" y="1322.80">r</text><text transform="scale(0.9433,1)" x="517.06" y="1322.80">s</text><text transform="scale(1.2000,1)" x="417.00" y="1322.80">t</text><text transform="scale(1.0587,1)" x="478.50" y="1322.80">o</text><text transform="scale(1.2000,1)" x="434.67" y="1322.80">t</text><text transform="scale(1.0564,1)" x="499.63" y="1322.80">h</text><text transform="scale(1.0224,1)" x="526.12" y="1322.80">e</text><text transform="scale(0.9885,1)" x="558.36" y="1322.80">c</text><text transform="scale(1.0587,1)" x="529.29" y="1322.80">o</text><text transform="scale(1.1235,1)" x="508.00" y="1322.80">r</text><text transform="scale(1.1235,1)" x="514.05" y="1322.80">r</text><text transform="scale(1.0224,1)" x="571.30" y="1322.80">e</text><text transform="scale(0.9885,1)" x="600.64" y="1322.80">c</text><text transform="scale(1.2000,1)" x="502.08" y="1322.80">t</text><text transform="scale(1.0564,1)" x="580.37" y="1322.80">d</text><text transform="scale(1.0224,1)" x="609.54" y="1322.80">e</text><text transform="scale(1.0564,1)" x="599.24" y="1322.80">p</text><text transform="scale(1.2000,1)" x="536.33" y="1322.80">t</text><text transform="scale(1.0564,1)" x="615.11" y="1322.80">h</text><text transform="scale(1.0320,1)" x="639.51" y="1322.80">.</text></g>
<path d="M144.6,346.8 H890.6 M878.5,358.6 H144.6" fill="none" stroke="#444" stroke-width="1.5"/>
<path d="M144.6,346.8 V358.6 M890.6,346.8 V1119.7 H878.5 V358.6" fill="none" stroke="#1a1a1a" stroke-width="1.2"/>
<line x1="145" y1="360.3" x2="877.8" y2="360.3" stroke="#c4c4c4" stroke-width="1.4"/>
<rect x="507.5" y="365.3" width="8.6" height="289" fill="#fff" stroke="#222" stroke-width="1"/>
<line x1="516.3" y1="365.5" x2="516.3" y2="654.5" stroke="#555" stroke-width="2"/>
<line x1="511.6" y1="654.3" x2="511.6" y2="1119.6" stroke="#333" stroke-width="1.3"/>
<circle cx="511.6" cy="389.2" r="1.5" fill="#888" stroke="#000" stroke-width="1.4"/>
<circle cx="511.6" cy="509.8" r="1.5" fill="#888" stroke="#000" stroke-width="1.4"/>
<circle cx="511.6" cy="629.6" r="1.5" fill="#888" stroke="#000" stroke-width="1.4"/>
<line x1="404.00" y1="422.50" x2="496.62" y2="369.71" stroke="#000" stroke-width="1.3"/><polygon points="504.00,365.50 497.48,375.26 492.28,366.14" fill="#000"/>
<line x1="376.20" y1="537.00" x2="502.83" y2="480.85" stroke="#000" stroke-width="1.3"/><polygon points="510.60,477.40 503.13,486.46 498.87,476.86" fill="#000"/>
<line x1="581.10" y1="472.80" x2="526.57" y2="405.79" stroke="#000" stroke-width="1.3"/><polygon points="521.20,399.20 531.90,404.03 523.76,410.66" fill="#000"/>
<line x1="581.80" y1="474.30" x2="528.36" y2="500.01" stroke="#000" stroke-width="1.3"/><polygon points="520.70,503.70 527.89,494.42 532.44,503.88" fill="#000"/>
<line x1="583.30" y1="475.20" x2="528.47" y2="611.71" stroke="#000" stroke-width="1.3"/><polygon points="525.30,619.60 524.34,607.90 534.09,611.81" fill="#000"/>
<line x1="256.30" y1="885.60" x2="284.13" y2="821.10" stroke="#000" stroke-width="1.3"/><polygon points="287.50,813.30 288.16,825.02 278.52,820.86" fill="#000"/>
<line x1="610.40" y1="986.80" x2="520.33" y2="998.60" stroke="#000" stroke-width="1.3"/><polygon points="511.90,999.70 521.63,993.13 522.99,1003.54" fill="#000"/>
<rect x="124.5" y="774.2" width="353.1" height="9.199999999999932" fill="none" stroke="#555" stroke-width="1"/><line x1="235.0" y1="774.2" x2="235.0" y2="783.4" stroke="#555" stroke-width="1"/><line x1="350.7" y1="774.2" x2="350.7" y2="783.4" stroke="#555" stroke-width="1"/>
<rect x="155.3" y="783.4" width="289.2" height="9.200000000000045" fill="none" stroke="#555" stroke-width="1"/><line x1="301.0" y1="783.4" x2="301.0" y2="792.6" stroke="#555" stroke-width="1"/>
<rect x="109.4" y="792.6" width="381.0" height="9.199999999999932" fill="none" stroke="#555" stroke-width="1"/><line x1="260.6" y1="792.6" x2="260.6" y2="801.8" stroke="#555" stroke-width="1"/>
<rect x="137.6" y="801.8" width="330.79999999999995" height="9.200000000000045" fill="none" stroke="#555" stroke-width="1"/><line x1="216.5" y1="801.8" x2="216.5" y2="811.0" stroke="#555" stroke-width="1"/><line x1="372.4" y1="801.8" x2="372.4" y2="811.0" stroke="#555" stroke-width="1"/>
<path d="M573.4,657.2 Q575.5,653.1 585.5,653.1 Q595.5,653.1 597.6,657.2 Z" fill="#fff" stroke="#777" stroke-width="0.9"/>
<rect x="573.4" y="657.2" width="24.2" height="2.3" fill="#fff" stroke="#777" stroke-width="0.9"/>
<path d="M579.5,659.6 V719.9 Q575.4,726 575.4,732.3 Q576,740 579.7,746.7 V758.5 Q580,759.8 581.5,759.8 H590 Q591.5,759.8 591.5,758.5 V736.2 L587.4,732.3 L591.5,728.5 V659.6" fill="#fff" stroke="#777" stroke-width="0.9"/>
<rect x="566.2" y="768.8" width="38.7" height="4.1" fill="#5c5c5c"/>
<line x1="567" y1="771.2" x2="572" y2="771.2" stroke="#e8e8e8" stroke-width="0.9"/>
<line x1="598.5" y1="771.2" x2="604" y2="771.2" stroke="#e8e8e8" stroke-width="0.9"/>
<path d="M573,772.9 Q585.5,775.2 598,772.9" fill="none" stroke="#aaa" stroke-width="0.8"/>
<rect x="572.9" y="826.2" width="27" height="38.5" fill="#7f7f7f" stroke="#666" stroke-width="0.8"/>
<rect x="580.7" y="826.6" width="10.8" height="37.7" fill="#c0c0c0"/>
<text x="772.86" y="122.70" font-size="46.0" textLength="32.88" lengthAdjust="spacingAndGlyphs" class="serif" fill="#111" stroke="#fff" stroke-width="0.4">A</text>
<text x="810.57" y="122.70" font-size="46.0" textLength="31.96" lengthAdjust="spacingAndGlyphs" class="serif" fill="#111" stroke="#fff" stroke-width="0.4">A</text>
<text x="846.68" y="122.70" font-size="46.0" textLength="31.20" lengthAdjust="spacingAndGlyphs" class="serif" fill="#111" stroke="#fff" stroke-width="0.4">C</text>
<text x="886.00" y="122.70" font-size="46.0" textLength="25.36" lengthAdjust="spacingAndGlyphs" class="serif" fill="#111" stroke="#fff" stroke-width="0.4">E</text>
<text x="917.09" y="122.70" font-size="46.0" textLength="32.68" lengthAdjust="spacingAndGlyphs" class="serif" fill="#111" stroke="#fff" stroke-width="0.4">R</text>
<text x="775.72" y="143.90" font-size="9.5" textLength="5.56" lengthAdjust="spacingAndGlyphs" class="sans" fill="#9a1f45" >S</text>
<text x="788.43" y="143.90" font-size="9.5" textLength="4.64" lengthAdjust="spacingAndGlyphs" class="sans" fill="#9a1f45" >P</text>
<text x="799.55" y="143.90" font-size="9.5" textLength="9.00" lengthAdjust="spacingAndGlyphs" class="sans" fill="#9a1f45" >O</text>
<text x="814.31" y="143.90" font-size="9.5" textLength="6.08" lengthAdjust="spacingAndGlyphs" class="sans" fill="#9a1f45" >R</text>
<text x="826.80" y="143.90" font-size="9.5" textLength="5.40" lengthAdjust="spacingAndGlyphs" class="sans" fill="#9a1f45" >T</text>
<text x="837.82" y="143.90" font-size="9.5" textLength="5.56" lengthAdjust="spacingAndGlyphs" class="sans" fill="#9a1f45" >S</text>
<text x="856.28" y="143.90" font-size="9.5" textLength="4.62" lengthAdjust="spacingAndGlyphs" class="sans" fill="#6b6b6b" >F</text>
<text x="868.53" y="143.90" font-size="9.5" textLength="4.54" lengthAdjust="spacingAndGlyphs" class="sans" fill="#6b6b6b" >L</text>
<text x="879.34" y="143.90" font-size="9.5" textLength="7.52" lengthAdjust="spacingAndGlyphs" class="sans" fill="#6b6b6b" >O</text>
<text x="893.54" y="143.90" font-size="9.5" textLength="7.52" lengthAdjust="spacingAndGlyphs" class="sans" fill="#6b6b6b" >O</text>
<text x="907.40" y="143.90" font-size="9.5" textLength="6.20" lengthAdjust="spacingAndGlyphs" class="sans" fill="#6b6b6b" >R</text>
<text x="919.61" y="143.90" font-size="9.5" textLength="3.57" lengthAdjust="spacingAndGlyphs" class="sans" fill="#6b6b6b" >I</text>
<text x="929.00" y="143.90" font-size="9.5" textLength="7.89" lengthAdjust="spacingAndGlyphs" class="sans" fill="#6b6b6b" >N</text>
<text x="942.49" y="143.90" font-size="9.5" textLength="7.86" lengthAdjust="spacingAndGlyphs" class="sans" fill="#6b6b6b" >G</text>
<text x="948.3" y="124" font-size="4.3" class="sans" fill="#111" textLength="9.2" lengthAdjust="spacingAndGlyphs" stroke="#111" stroke-width="0.15">TM</text>
</svg>
</body></html>
